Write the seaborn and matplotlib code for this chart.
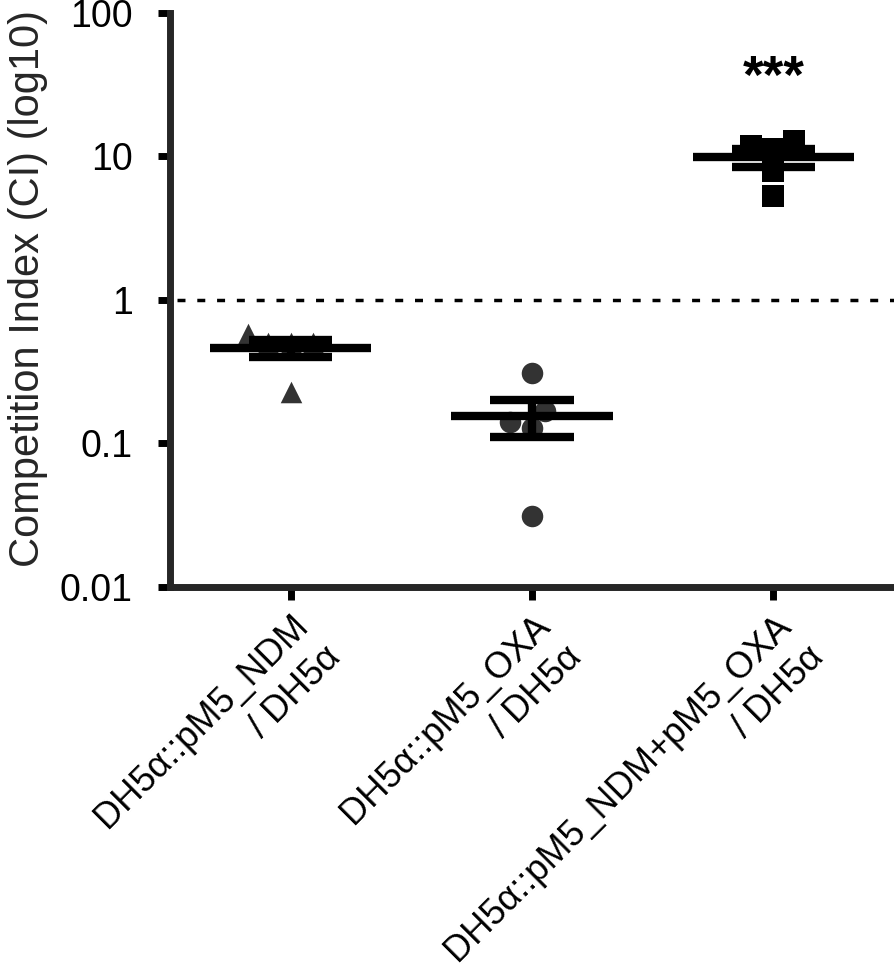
import numpy as np
import pandas as pd
import matplotlib
matplotlib.use("Agg")
import matplotlib.pyplot as plt
import seaborn as sns

# 数据
groups = ["DH5α::pM5_NDM\n/ DH5α",
          "DH5α::pM5_OXA\n/ DH5α",
          "DH5α::pM5_NDM+pM5_OXA\n/ DH5α"]
ci_ndm = [0.58, 0.50, 0.50, 0.50, 0.23]
ci_oxa = [0.312, 0.140, 0.128, 0.169, 0.031]
ci_both = [11.8, 11.3, 12.8, 7.9, 5.3]
markers = ["^", "o", "s"]
colors = ["#333333", "#333333", "#000000"]
y_ticks = [0.01, 0.1, 1, 10, 100]
y_tick_labels = ["0.01", "0.1", "1", "10", "100"]
signif_label = "***"
signif_y = 34.5

df = pd.DataFrame({
    "group": [groups[0]] * len(ci_ndm) + [groups[1]] * len(ci_oxa) + [groups[2]] * len(ci_both),
    "ci": ci_ndm + ci_oxa + ci_both,
})

sns.set_style("ticks")
plt.rcParams['font.family'] = ['Liberation Sans', 'DejaVu Sans']

fig = plt.figure(figsize=(8.94, 9.73), dpi=100)
ax = fig.add_axes([0.1902, 0.3967, 0.8098, 0.5902])
ax.set_yscale('log')
ax.set_ylim(0.01, 100)

# 散点（每组不同形状）
for g, m, c in zip(groups, markers, colors):
    sns.swarmplot(data=df[df["group"] == g], x="group", y="ci", order=groups,
                  marker=m, color=c, size=15.5, linewidth=0, ax=ax, zorder=2)

# 均值 ± SEM
stats = df.groupby("group", sort=False)["ci"].agg(["mean", "sem"])
for i, g in enumerate(groups):
    mu, se = stats.loc[g, "mean"], stats.loc[g, "sem"]
    ax.hlines(mu, i - 0.334, i + 0.334, color="black", lw=6, zorder=4)
    ax.hlines([mu - se, mu + se], i - 0.173, i + 0.173, color="black", lw=6, zorder=4)
    ax.vlines(i, mu - se, mu + se, color="black", lw=6, zorder=4)

# 参考线 CI = 1
ax.axhline(1, xmin=0.01, color="black", lw=2.5, linestyle=(0, (2.3, 3.4)), zorder=1)

ax.text(2, signif_y, signif_label, ha="center", va="center", fontsize=38,
        fontweight="bold", color="black")

ax.set_xlim(-0.5, 2.5)
ax.set_ylim(0.01, 100)
ax.set_yticks(y_ticks, y_tick_labels)
ax.minorticks_off()
ax.set_xlabel("")
ax.set_ylabel("Competition Index (CI) (log10)", fontsize=30)
ax.yaxis.set_label_coords(-0.168, 0.52)

sns.despine(ax=ax)
for s in ["left", "bottom"]:
    ax.spines[s].set_linewidth(5)
ax.tick_params(axis="both", width=5, length=9, labelsize=27, color="black", labelcolor="black")
ax.tick_params(axis="y", pad=18)
ax.tick_params(axis="x", pad=6, labelsize=26)
for lab in ax.get_xticklabels():
    lab.set_rotation(45)
    lab.set_ha("right")
    lab.set_va("top")
    lab.set_rotation_mode("anchor")
    lab.set_linespacing(1.4)

fig.savefig("out.png", dpi=100)
